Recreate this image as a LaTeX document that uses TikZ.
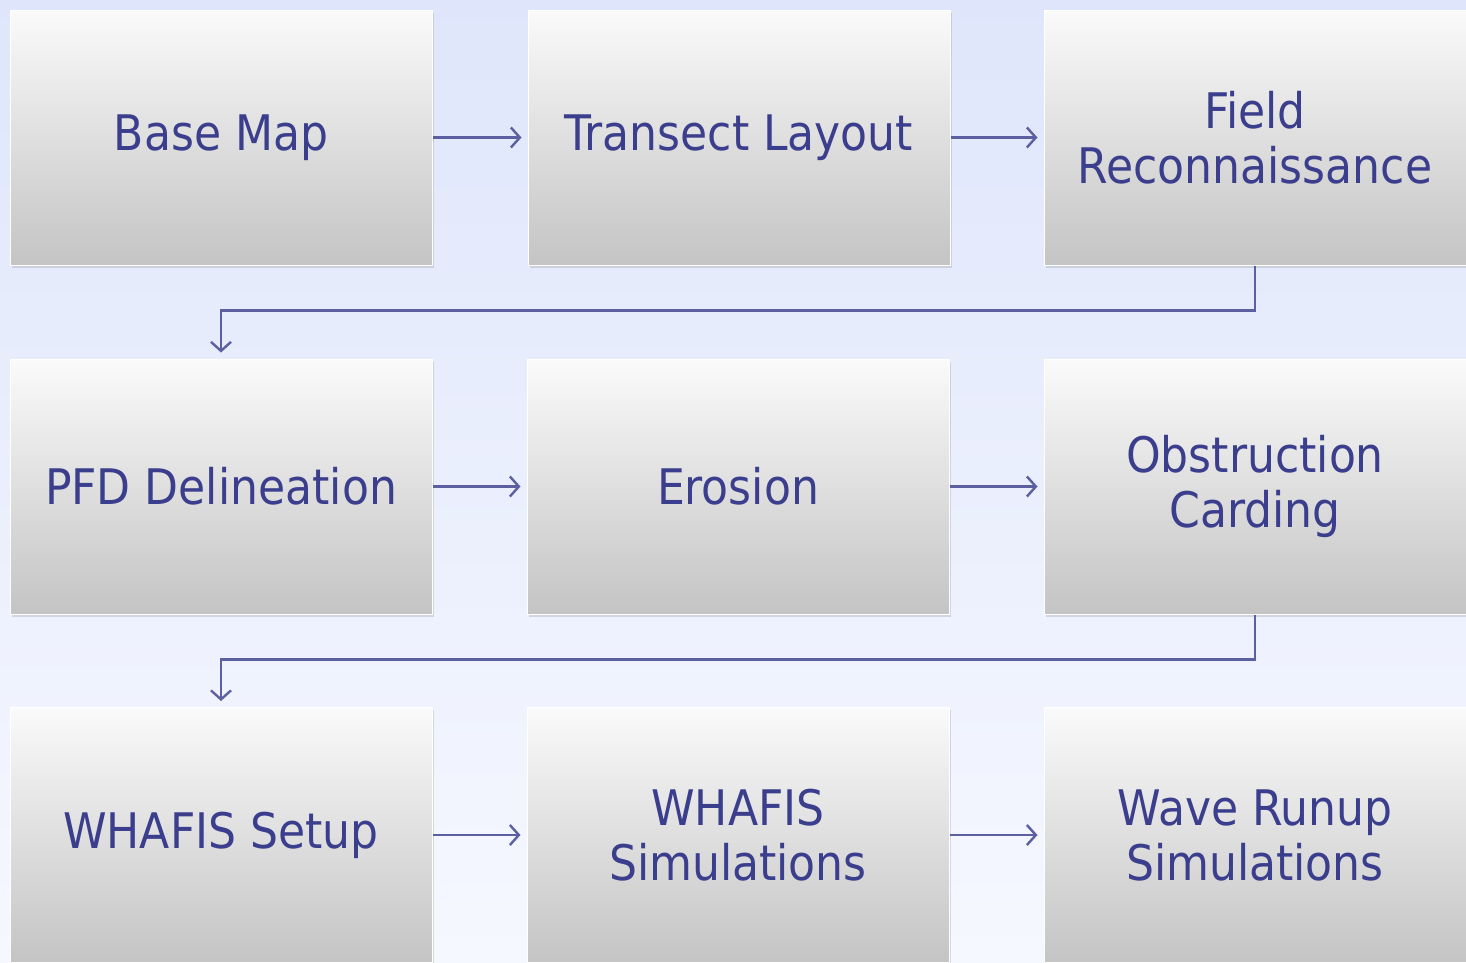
\documentclass[tikz,border=0pt]{standalone}
\usepackage{fontspec}
\setmainfont{DejaVu Sans Condensed}
\usetikzlibrary{arrows.meta,shadows}
\definecolor{bgtop}{RGB}{223,230,251}
\definecolor{bgbot}{RGB}{246,248,255}
\definecolor{boxtop}{RGB}{250,250,250}
\definecolor{boxbot}{RGB}{196,196,196}
\definecolor{txt}{RGB}{58,62,140}
\definecolor{link}{RGB}{92,96,160}
\tikzset{
  stepbox/.style={rectangle, minimum width=422pt, minimum height=255pt,
    top color=boxtop, bottom color=boxbot, draw=white, line width=1pt,
    drop shadow={shadow xshift=1.5pt, shadow yshift=-2.5pt, opacity=0.25},
    text=txt, font=\fontsize{49}{55}\selectfont, align=center, inner sep=0pt},
  flow/.style={draw=link, line width=2.4pt, shorten >=6pt,
    -{Straight Barb[length=9pt,width=20pt,line width=2.4pt]}},
}
\begin{document}
\begin{tikzpicture}[x=1pt,y=-1pt]
  \useasboundingbox (0,0) rectangle (1466,962);
  \shade[top color=bgtop, bottom color=bgbot] (0,0) rectangle (1466,962);
  % first row
  \node[stepbox] (base) at (221,137.5) {Base Map};
  \node[stepbox] (tran) at (739,137.5) {Transect Layout};
  \node[stepbox] (field) at (1255,137.5) {Field\\Reconnaissance};
  % second row
  \node[stepbox] (pfd) at (221,486.5) {PFD Delineation};
  \node[stepbox] (eros) at (738,486.5) {Erosion};
  \node[stepbox] (obst) at (1255,486.5) {Obstruction\\Carding};
  % third row
  \node[stepbox] (whset) at (221,835) {WHAFIS Setup};
  \node[stepbox] (whsim) at (738,835) {WHAFIS\\Simulations};
  \node[stepbox] (wave) at (1255,835) {Wave Runup\\Simulations};
  % connectors
  \draw[flow] (base) -- (tran);
  \draw[flow] (tran) -- (field);
  \draw[flow] (pfd) -- (eros);
  \draw[flow] (eros) -- (obst);
  \draw[flow] (whset) -- (whsim);
  \draw[flow] (whsim) -- (wave);
  \draw[flow] (field.south) -- ++(0,45) -| (pfd.north);
  \draw[flow] (obst.south) -- ++(0,45) -| (whset.north);
\end{tikzpicture}
\end{document}
